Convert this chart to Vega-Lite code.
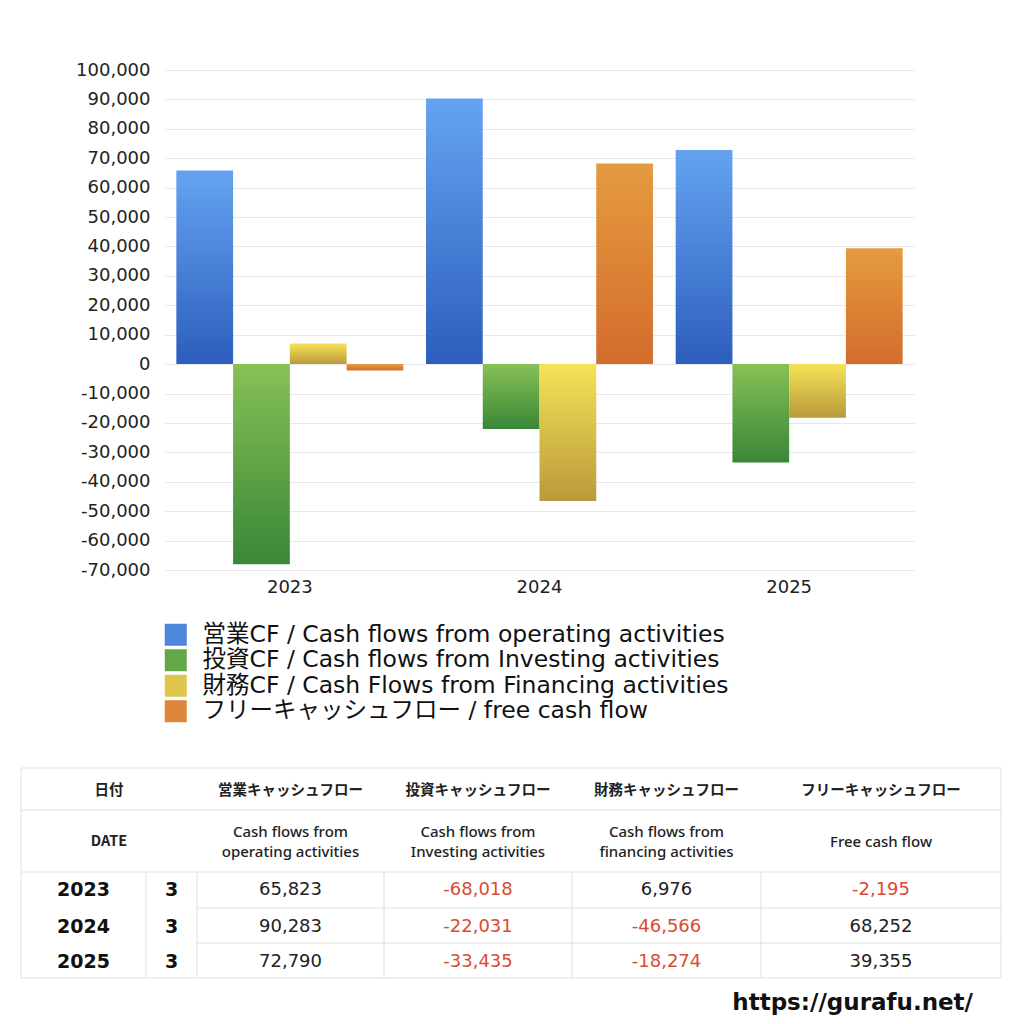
{
  "$schema": "https://vega.github.io/schema/vega-lite/v6.json",
  "padding": {"left": 20, "top": 61, "right": 0, "bottom": 0},
  "spacing": 171,
  "config": {
    "view": {"stroke": null},
    "font": "DejaVu Sans",
    "locale": {"number": {"decimal": ".", "thousands": ",", "grouping": [3], "currency": ["", ""], "minus": "-"}}
  },
  "datasets": {
    "cf": [
      {"year": "2023", "r": 2, "c": 2, "series": "営業CF / Cash flows from operating activities", "value": 65823},
      {"year": "2023", "r": 2, "c": 3, "series": "投資CF / Cash flows from Investing activities", "value": -68018},
      {"year": "2023", "r": 2, "c": 4, "series": "財務CF / Cash Flows from Financing activities", "value": 6976},
      {"year": "2023", "r": 2, "c": 5, "series": "フリーキャッシュフロー / free cash flow", "value": -2195},
      {"year": "2024", "r": 3, "c": 2, "series": "営業CF / Cash flows from operating activities", "value": 90283},
      {"year": "2024", "r": 3, "c": 3, "series": "投資CF / Cash flows from Investing activities", "value": -22031},
      {"year": "2024", "r": 3, "c": 4, "series": "財務CF / Cash Flows from Financing activities", "value": -46566},
      {"year": "2024", "r": 3, "c": 5, "series": "フリーキャッシュフロー / free cash flow", "value": 68252},
      {"year": "2025", "r": 4, "c": 2, "series": "営業CF / Cash flows from operating activities", "value": 72790},
      {"year": "2025", "r": 4, "c": 3, "series": "投資CF / Cash flows from Investing activities", "value": -33435},
      {"year": "2025", "r": 4, "c": 4, "series": "財務CF / Cash Flows from Financing activities", "value": -18274},
      {"year": "2025", "r": 4, "c": 5, "series": "フリーキャッシュフロー / free cash flow", "value": 39355}
    ],
    "hdr": [
      {"c": 0, "r": 0, "t": "日付"},
      {"c": 2, "r": 0, "t": "営業キャッシュフロー"},
      {"c": 3, "r": 0, "t": "投資キャッシュフロー"},
      {"c": 4, "r": 0, "t": "財務キャッシュフロー"},
      {"c": 5, "r": 0, "t": "フリーキャッシュフロー"},
      {"c": 0, "r": 1, "t": "DATE"},
      {"c": 2, "r": 1, "t": "Cash flows from\noperating activities"},
      {"c": 3, "r": 1, "t": "Cash flows from\nInvesting activities"},
      {"c": 4, "r": 1, "t": "Cash flows from\nfinancing activities"},
      {"c": 5, "r": 1, "t": "Free cash flow"}
    ],
    "dates": [
      {"c": 0, "r": 2, "t": "2023"}, {"c": 1, "r": 2, "t": "3"},
      {"c": 0, "r": 3, "t": "2024"}, {"c": 1, "r": 3, "t": "3"},
      {"c": 0, "r": 4, "t": "2025"}, {"c": 1, "r": 4, "t": "3"}
    ],
    "hlines": [
      {"r": -0.5, "c1": -0.5, "c2": 5.5},
      {"r": 0.5, "c1": -0.5, "c2": 5.5},
      {"r": 1.5, "c1": -0.5, "c2": 5.5},
      {"r": 2.5, "c1": 1.5, "c2": 5.5},
      {"r": 3.5, "c1": 1.5, "c2": 5.5},
      {"r": 4.5, "c1": -0.5, "c2": 5.5}
    ],
    "vlines": [
      {"c": -0.5, "r1": -0.5, "r2": 4.5},
      {"c": 0.5, "r1": 1.5, "r2": 4.5},
      {"c": 1.5, "r1": 1.5, "r2": 4.5},
      {"c": 2.5, "r1": 1.5, "r2": 4.5},
      {"c": 3.5, "r1": 1.5, "r2": 4.5},
      {"c": 4.5, "r1": 1.5, "r2": 4.5},
      {"c": 5.5, "r1": -0.5, "r2": 4.5}
    ]
  },
  "vconcat": [
    {
      "width": 749,
      "height": 500,
      "data": {"name": "cf"},
      "encoding": {
        "x": {
          "field": "year", "type": "nominal",
          "scale": {"paddingInner": 0, "paddingOuter": 0},
          "axis": {"title": null, "labelAngle": 0, "domain": false, "ticks": false, "labelFontSize": 18, "labelPadding": 8, "labelColor": "#222"}
        },
        "xOffset": {
          "field": "series", "type": "nominal",
          "scale": {
            "domain": ["営業CF / Cash flows from operating activities", "投資CF / Cash flows from Investing activities", "財務CF / Cash Flows from Financing activities", "フリーキャッシュフロー / free cash flow"],
            "paddingInner": 0, "paddingOuter": 0.2
          }
        },
        "y": {
          "field": "value", "type": "quantitative",
          "scale": {"domain": [-70000, 100000], "nice": false, "zero": false},
          "axis": {
            "title": null, "domain": false, "ticks": false, "format": ",.0f",
            "values": [-70000, -60000, -50000, -40000, -30000, -20000, -10000, 0, 10000, 20000, 30000, 40000, 50000, 60000, 70000, 80000, 90000, 100000],
            "labelFontSize": 18, "labelPadding": 15, "labelColor": "#222", "gridColor": "#e8e8e8"
          }
        }
      },
      "layer": [
        {
          "mark": {"type": "bar", "opacity": 0},
          "encoding": {
            "color": {
              "field": "series", "type": "nominal",
              "scale": {
                "domain": ["営業CF / Cash flows from operating activities", "投資CF / Cash flows from Investing activities", "財務CF / Cash Flows from Financing activities", "フリーキャッシュフロー / free cash flow"],
                "range": ["#4d86da", "#62a848", "#dec54c", "#de8637"]
              },
              "legend": {
                "title": null, "orient": "none", "legendX": -1, "legendY": 553,
                "symbolType": "square", "symbolSize": 484, "symbolStrokeWidth": 0, "symbolOpacity": 1,
                "labelFont": "DejaVu Sans, Noto Sans CJK JP", "labelFontSize": 23.5, "labelColor": "#111",
                "labelOffset": 15, "rowPadding": 0.5, "labelLimit": 800
              }
            }
          }
        },
        {
          "transform": [{"filter": "datum.c == 2"}],
          "mark": {"type": "bar", "color": {"gradient": "linear", "x1": 0, "y1": 0, "x2": 0, "y2": 1, "stops": [{"offset": 0, "color": "#65a3f1"}, {"offset": 1, "color": "#2c5ebd"}]}}
        },
        {
          "transform": [{"filter": "datum.c == 3"}],
          "mark": {"type": "bar", "color": {"gradient": "linear", "x1": 0, "y1": 0, "x2": 0, "y2": 1, "stops": [{"offset": 0, "color": "#87c056"}, {"offset": 1, "color": "#398737"}]}}
        },
        {
          "transform": [{"filter": "datum.c == 4"}],
          "mark": {"type": "bar", "color": {"gradient": "linear", "x1": 0, "y1": 0, "x2": 0, "y2": 1, "stops": [{"offset": 0, "color": "#f6e257"}, {"offset": 1, "color": "#b99a3b"}]}}
        },
        {
          "transform": [{"filter": "datum.c == 5"}],
          "mark": {"type": "bar", "color": {"gradient": "linear", "x1": 0, "y1": 0, "x2": 0, "y2": 1, "stops": [{"offset": 0, "color": "#e59b3f"}, {"offset": 1, "color": "#d36c2d"}]}}
        }
      ]
    },
    {
      "width": 808,
      "height": 210,
      "title": {"text": "https://gurafu.net/", "orient": "bottom", "anchor": "end", "frame": "group", "fontSize": 23, "fontWeight": "bold", "font": "DejaVu Sans", "color": "#111", "offset": 13},
      "layer": [
        {
          "data": {"name": "hlines"},
          "mark": {"type": "rule", "color": "#e0e0e0", "strokeWidth": 1},
          "encoding": {
            "x": {"field": "c1", "type": "quantitative", "axis": null,
                  "scale": {"domain": [-0.5, 0, 0.5, 1, 1.5, 2, 2.5, 3, 3.5, 4, 4.5, 5, 5.5], "range": [-144, -81.5, -19, 6.5, 32, 125.5, 219, 313, 407, 501.5, 596, 716, 836], "zero": false, "nice": false}},
            "x2": {"field": "c2"},
            "y": {"field": "r", "type": "quantitative", "axis": null,
                  "scale": {"domain": [-0.5, 0, 0.5, 1, 1.5, 2, 2.5, 3, 3.5, 4, 4.5], "range": [0, 23, 42, 74, 104, 122, 140, 158.5, 175, 193.5, 210], "zero": false, "nice": false}}
          }
        },
        {
          "data": {"name": "vlines"},
          "mark": {"type": "rule", "color": "#e0e0e0", "strokeWidth": 1},
          "encoding": {
            "x": {"field": "c", "type": "quantitative", "axis": null},
            "y": {"field": "r1", "type": "quantitative", "axis": null},
            "y2": {"field": "r2"}
          }
        },
        {
          "data": {"name": "hdr"},
          "transform": [{"filter": "datum.r == 0 && datum.c > 0"}],
          "mark": {"type": "text", "font": "Noto Sans CJK JP", "fontWeight": "bold", "fontSize": 14.5, "color": "#222"},
          "encoding": {
            "x": {"field": "c", "type": "quantitative"},
            "y": {"field": "r", "type": "quantitative"},
            "text": {"field": "t"}
          }
        },
        {
          "data": {"name": "hdr"},
          "transform": [{"filter": "datum.r == 1 && datum.c > 0 && datum.c < 5"}],
          "mark": {"type": "text", "font": "Noto Sans", "fontWeight": 500, "fontSize": 15, "color": "#222", "lineBreak": "\n", "lineHeight": 20, "dy": -10},
          "encoding": {
            "x": {"field": "c", "type": "quantitative"},
            "y": {"field": "r", "type": "quantitative"},
            "text": {"field": "t"}
          }
        },
        {
          "data": {"name": "hdr"},
          "transform": [{"filter": "datum.r == 1 && datum.c == 5"}],
          "mark": {"type": "text", "font": "Noto Sans", "fontWeight": 500, "fontSize": 15, "color": "#222"},
          "encoding": {
            "x": {"field": "c", "type": "quantitative"},
            "y": {"field": "r", "type": "quantitative"},
            "text": {"field": "t"}
          }
        },
        {
          "data": {"name": "hdr"},
          "transform": [{"filter": "datum.c == 0"}],
          "mark": {"type": "text", "font": "Noto Sans CJK JP", "fontWeight": "bold", "fontSize": 14.5, "color": "#222", "dx": 25.5},
          "encoding": {
            "x": {"field": "c", "type": "quantitative"},
            "y": {"field": "r", "type": "quantitative"},
            "text": {"field": "t"}
          }
        },
        {
          "data": {"name": "dates"},
          "mark": {"type": "text", "font": "DejaVu Sans", "fontWeight": "bold", "fontSize": 19, "color": "#111"},
          "encoding": {
            "x": {"field": "c", "type": "quantitative"},
            "y": {"field": "r", "type": "quantitative"},
            "text": {"field": "t"}
          }
        },
        {
          "data": {"name": "cf"},
          "mark": {"type": "text", "font": "DejaVu Sans", "fontSize": 18},
          "encoding": {
            "x": {"field": "c", "type": "quantitative"},
            "y": {"field": "r", "type": "quantitative"},
            "text": {"field": "value", "type": "quantitative", "format": ","},
            "color": {"condition": {"test": "datum.value < 0", "value": "#dc4a32"}, "value": "#222"}
          }
        }
      ]
    }
  ]
}
